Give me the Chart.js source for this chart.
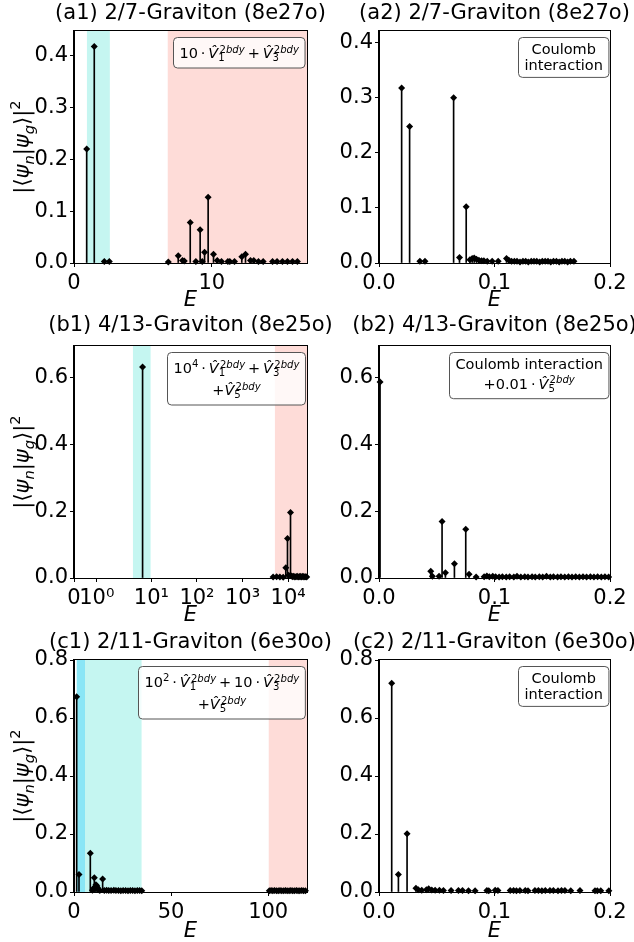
<!DOCTYPE html>
<html>
<head>
<meta charset="utf-8">
<script src="https://cdn.jsdelivr.net/npm/chart.js@4.4.1/dist/chart.umd.min.js"></script>
<style>
  html, body { margin: 0; padding: 0; background: #fff; }
  #wrap { position: relative; width: 634px; height: 942px; overflow: hidden; }
  #wrap canvas { position: absolute; left: 0; top: 0; }
</style>
</head>
<body>
<div id="wrap">
  <canvas id="a1" width="634" height="942"></canvas>
  <canvas id="a2" width="634" height="942"></canvas>
  <canvas id="b1" width="634" height="942"></canvas>
  <canvas id="b2" width="634" height="942"></canvas>
  <canvas id="c1" width="634" height="942"></canvas>
  <canvas id="c2" width="634" height="942"></canvas>
</div>
<script>
// ---- data: [E, |<psi_n|psi_g>|^2] ----
const a1Stems = [
  [0.92, 0.220], [1.47, 0.418], [2.20, 0.003], [2.56, 0.003], [6.84, 0.002], [7.56, 0.014],
  [7.87, 0.005], [8.00, 0.004], [8.43, 0.078], [8.84, 0.003], [9.15, 0.064], [9.30, 0.003],
  [9.47, 0.021], [9.73, 0.127], [10.12, 0.017], [10.39, 0.005], [10.70, 0.003], [11.16, 0.003],
  [11.30, 0.003], [11.64, 0.003], [12.17, 0.012], [12.44, 0.017], [12.80, 0.005], [13.04, 0.005],
  [13.38, 0.003], [13.72, 0.003], [14.40, 0.003], [14.73, 0.003], [15.12, 0.003], [15.48, 0.003],
  [15.85, 0.003], [16.20, 0.003]
];
const a2Stems = [
  [0.0196, 0.317], [0.0265, 0.247], [0.0354, 0.003], [0.0398, 0.003], [0.0646, 0.299], [0.0697, 0.010],
  [0.0755, 0.102], [0.0787, 0.006], [0.0807, 0.008], [0.0824, 0.009], [0.0844, 0.007], [0.0865, 0.005],
  [0.0888, 0.004], [0.0908, 0.004], [0.0937, 0.003], [0.0980, 0.003], [0.1032, 0.003], [0.1104, 0.008],
  [0.1124, 0.005], [0.1148, 0.003], [0.1172, 0.003], [0.1195, 0.003], [0.1221, 0.002], [0.1246, 0.003],
  [0.1270, 0.003], [0.1293, 0.002], [0.1318, 0.003], [0.1342, 0.003], [0.1366, 0.003], [0.1391, 0.002],
  [0.1414, 0.003], [0.1439, 0.003], [0.1463, 0.003], [0.1487, 0.002], [0.1511, 0.003], [0.1536, 0.003],
  [0.1560, 0.002], [0.1584, 0.003], [0.1608, 0.003], [0.1633, 0.002], [0.1657, 0.003], [0.1688, 0.003]
];
const b1Stems = [
  [6.4, 0.632], [4700, 0.003], [5600, 0.004], [6600, 0.003], [7800, 0.002], [8900, 0.031],
  [9700, 0.118], [10300, 0.008], [11300, 0.196], [11900, 0.006], [12600, 0.004], [13300, 0.005],
  [14100, 0.003], [14900, 0.004], [15800, 0.005], [16600, 0.003], [17500, 0.004], [18400, 0.005],
  [19300, 0.003], [20200, 0.004], [21200, 0.005], [22300, 0.003], [23400, 0.004], [24500, 0.004],
  [25600, 0.003]
];
const b2Stems = [
  [0.0009, 0.587], [0.0448, 0.020], [0.0462, 0.005], [0.0520, 0.005], [0.0546, 0.169], [0.0575, 0.016],
  [0.0653, 0.043], [0.0751, 0.146], [0.0780, 0.011], [0.0841, 0.003], [0.0910, 0.004], [0.0934, 0.006],
  [0.0955, 0.004], [0.0985, 0.005], [0.1010, 0.004], [0.1040, 0.003], [0.1068, 0.004], [0.1102, 0.003],
  [0.1131, 0.004], [0.1167, 0.003], [0.1195, 0.005], [0.1228, 0.003], [0.1262, 0.004], [0.1290, 0.003],
  [0.1325, 0.004], [0.1353, 0.003], [0.1388, 0.004], [0.1417, 0.003], [0.1450, 0.005], [0.1483, 0.003],
  [0.1511, 0.004], [0.1546, 0.003], [0.1575, 0.004], [0.1608, 0.003], [0.1640, 0.004], [0.1671, 0.003],
  [0.1703, 0.004], [0.1735, 0.003], [0.1766, 0.004], [0.1797, 0.003], [0.1830, 0.004], [0.1861, 0.003],
  [0.1893, 0.004], [0.1925, 0.003], [0.1956, 0.004], [0.1988, 0.003]
];
const c1Stems = [
  [1.37, 0.673], [2.57, 0.060], [8.4, 0.134], [9.5, 0.006], [10.0, 0.012], [10.46, 0.049],
  [10.9, 0.018], [11.3, 0.025], [11.8, 0.021], [12.3, 0.013], [12.8, 0.008], [13.3, 0.005],
  [14.75, 0.045], [15.6, 0.005], [16.8, 0.006], [17.9, 0.005], [19.1, 0.005], [20.5, 0.006],
  [21.6, 0.005], [22.9, 0.005], [24.1, 0.004], [25.3, 0.005], [26.6, 0.005], [27.8, 0.004],
  [29.0, 0.005], [30.2, 0.005], [31.4, 0.004], [32.6, 0.005], [33.8, 0.005], [34.9, 0.004],
  [100.6, 0.004], [101.5, 0.005], [102.4, 0.004], [103.3, 0.005], [104.3, 0.004], [105.2, 0.004],
  [106.1, 0.005], [107.0, 0.004], [108.0, 0.004], [108.9, 0.005], [109.8, 0.004], [110.8, 0.004],
  [111.7, 0.005], [112.6, 0.004], [113.5, 0.004], [114.5, 0.005], [115.4, 0.004], [116.3, 0.004],
  [117.3, 0.005], [118.2, 0.004], [119.2, 0.004]
];
const c2Stems = [
  [0.0110, 0.720], [0.0168, 0.060], [0.0243, 0.201], [0.0320, 0.013], [0.0340, 0.008], [0.0370, 0.006],
  [0.0410, 0.008], [0.0430, 0.011], [0.0457, 0.007], [0.0486, 0.006], [0.0523, 0.006], [0.0558, 0.005],
  [0.0624, 0.005], [0.0688, 0.005], [0.0723, 0.005], [0.0775, 0.004], [0.0832, 0.004], [0.0934, 0.005],
  [0.0950, 0.004], [0.1006, 0.006], [0.1030, 0.005], [0.1136, 0.005], [0.1165, 0.005], [0.1190, 0.004],
  [0.1220, 0.005], [0.1266, 0.005], [0.1290, 0.004], [0.1350, 0.005], [0.1380, 0.005], [0.1410, 0.004],
  [0.1440, 0.005], [0.1480, 0.005], [0.1510, 0.005], [0.1550, 0.004], [0.1580, 0.005], [0.1610, 0.005],
  [0.1660, 0.004], [0.1740, 0.005], [0.1870, 0.004], [0.1890, 0.004], [0.1920, 0.004], [0.1990, 0.004]
];

// shaded energy windows [from, to, kind]
const a1Bands = [[0.94, 2.6, 'turq'], [6.8, 16.9, 'salmon']];
const b1Bands = [[3.94, 9.6, 'turq'], [5140, 26000, 'salmon']];
const c1Bands = [[1.4, 34.8, 'turq'], [1.4, 5.66, 'sky'], [100.3, 120, 'salmon']];

// ticks
const yTicksA = [0, 0.1, 0.2, 0.3, 0.4];
const yTicksB = [0, 0.2, 0.4, 0.6];
const yTicksC = [0, 0.2, 0.4, 0.6, 0.8];
const xTicksA1 = [0, 10];
const xTicksB1 = [0, 1, 10, 100, 1000, 10000];
const xLabelsB1 = ['0', '10\u2070', '10\u00b9', '10\u00b2', '10\u00b3', '10\u2074'];
const xTicksC1 = [0, 50, 100];
const xTicksSmall = [0, 0.1, 0.2];

// annotation texts (strings upright, objects = math pieces)
const vhat = n => ({ b: 'V', hat: true, sub: n, sup: '2bdy' });
const op = s => [{ sp: 0.2 }, s, { sp: 0.2 }];
const a1Box = [['10', ...op('\u00b7'), vhat('1'), ...op('+'), vhat('3')]];
const b1Box = [['10', { sup: '4' }, ...op('\u00b7'), vhat('1'), ...op('+'), vhat('3')], ['+', vhat('5')]];
const c1Box = [['10', { sup: '2' }, ...op('\u00b7'), vhat('1'), ...op('+'), '10', ...op('\u00b7'), vhat('3')], ['+', vhat('5')]];
const coulombBox = [['Coulomb'], ['interaction']];
const b2Box = [['Coulomb interaction'], ['+0.01', ...op('\u00b7'), vhat('5')]];
const yLabelTokens = ['|\u27e8', { b: '\u03c8', sub: 'n' }, '|', { b: '\u03c8', sub: 'g' }, '\u27e9|', { sup: '2' }];

const FONT = '"DejaVu Sans", sans-serif';
const BAND_COLORS = {
  turq: 'rgba(64,224,208,0.3)',
  sky: 'rgba(0,191,255,0.3)',
  salmon: 'rgba(250,128,114,0.28)'
};

// symmetric log scale (linear below linthresh, log10 above)
class SymlogScale extends Chart.Scale {
  static id = 'symlog';
  static defaults = { linthresh: 2, linscale: 1 };
  determineDataLimits() {
    const { min, max } = this.getMinMax(true);
    this.min = Number.isFinite(this.options.min) ? this.options.min : min;
    this.max = Number.isFinite(this.options.max) ? this.options.max : max;
  }
  buildTicks() { return []; }
  tf(v) {
    const c = this.options.linthresh, ls = this.options.linscale, a = Math.abs(v);
    return Math.sign(v) * (a <= c ? a / c * ls : ls + Math.log10(a / c));
  }
  configure() {
    super.configure();
    this._t0 = this.tf(this.min);
    this._t1 = this.tf(this.max);
  }
  getLabelForValue(v) { return String(v); }
  getPixelForValue(v) {
    return this.getPixelForDecimal((this.tf(v) - this._t0) / (this._t1 - this._t0));
  }
  getValueForPixel(p) {
    const t = this._t0 + this.getDecimalForPixel(p) * (this._t1 - this._t0);
    const c = this.options.linthresh, ls = this.options.linscale, a = Math.abs(t);
    return Math.sign(t) * (a <= ls ? a / ls * c : c * Math.pow(10, a - ls));
  }
}
Chart.register(SymlogScale);

// ---- small math text renderer ----
function setFont(ctx, size, italic) {
  ctx.font = (italic ? 'italic ' : '') + size + 'px ' + FONT;
}
function drawRun(ctx, s, x, y, size, math, draw) {
  if (!math) {
    setFont(ctx, size, false);
    if (draw) ctx.fillText(s, x, y);
    return ctx.measureText(s).width;
  }
  let w = 0;
  for (const ch of s) {
    setFont(ctx, size, /\p{L}/u.test(ch));
    if (draw) ctx.fillText(ch, x + w, y);
    w += ctx.measureText(ch).width;
  }
  return w;
}
function drawTok(ctx, tk, x, y, size, draw) {
  if (typeof tk === 'string') return drawRun(ctx, tk, x, y, size, false, draw);
  if (tk.sp) return tk.sp * size;
  let w = 0;
  if (tk.b) {
    setFont(ctx, size, true);
    if (draw) ctx.fillText(tk.hat ? tk.b + '\u0302' : tk.b, x, y);
    w = ctx.measureText(tk.b).width;
  }
  const ss = size * 0.7;
  const ic = tk.b ? size * 0.08 : 0;
  const wSup = tk.sup ? ic + drawRun(ctx, tk.sup, x + w + ic, y - size * (tk.b ? 0.36 : 0.42), ss, true, draw) : 0;
  const wSub = tk.sub ? drawRun(ctx, tk.sub, x + w, y + size * 0.22, ss, true, draw) : 0;
  return w + Math.max(wSup, wSub);
}
function drawLine(ctx, line, x, y, size, draw) {
  let w = 0;
  for (const tk of line) w += drawTok(ctx, tk, x + w, y, size, draw);
  return w;
}
function drawBox(ctx, a, lines) {
  const fs = 14.5, padX = 6, padT = 5, padB = 3.5, r = 4;
  const widths = lines.map(l => drawLine(ctx, l, 0, 0, fs, false));
  const ms = lines.map(l => l.some(t => typeof t !== 'string') ? { asc: 15.5, desc: 6.5 } : { asc: 11.5, desc: 4.2 });
  const w = Math.max(...widths) + 2 * padX;
  const h = padT + padB + ms.reduce((s, m) => s + m.asc + m.desc, 0);
  const x0 = Math.round(a.right - 2 - w) + 0.5, y0 = Math.round(a.top + 6) + 0.5;
  ctx.beginPath();
  ctx.moveTo(x0 + r, y0);
  ctx.arcTo(x0 + w, y0, x0 + w, y0 + h, r);
  ctx.arcTo(x0 + w, y0 + h, x0, y0 + h, r);
  ctx.arcTo(x0, y0 + h, x0, y0, r);
  ctx.arcTo(x0, y0, x0 + w, y0, r);
  ctx.closePath();
  ctx.fillStyle = 'rgba(255,255,255,0.8)';
  ctx.fill();
  ctx.strokeStyle = '#555';
  ctx.lineWidth = 1;
  ctx.stroke();
  ctx.fillStyle = '#000';
  let y = y0 + padT;
  lines.forEach((l, i) => {
    y += ms[i].asc;
    drawLine(ctx, l, x0 + (w - widths[i]) / 2, y, fs, true);
    y += ms[i].desc;
  });
}
function drawYLabel(ctx, a) {
  const fs = 21;
  const w = drawLine(ctx, yLabelTokens, 0, 0, fs, false);
  ctx.translate(29, (a.top + a.bottom) / 2);
  ctx.rotate(-Math.PI / 2);
  ctx.fillStyle = '#000';
  drawLine(ctx, yLabelTokens, -w / 2, 0, fs, true);
}

function makeDeco(p) {
  return {
    id: 'deco',
    beforeDatasetsDraw(chart) {
      const { ctx, chartArea: a, scales: { x } } = chart;
      ctx.save();
      ctx.beginPath();
      ctx.rect(a.left, a.top, a.right - a.left, a.bottom - a.top);
      ctx.clip();
      for (const [from, to, kind] of p.bands) {
        const x0 = x.getPixelForValue(from), x1 = x.getPixelForValue(to);
        ctx.fillStyle = BAND_COLORS[kind];
        ctx.fillRect(x0, a.top, x1 - x0, a.bottom - a.top);
      }
      ctx.restore();
    },
    afterDraw(chart) {
      const { ctx, chartArea: a } = chart;
      ctx.save();
      ctx.strokeStyle = '#000';
      ctx.lineWidth = 1;
      ctx.strokeRect(a.left - 0.5, a.top - 0.5, a.right - a.left + 1, a.bottom - a.top + 1);
      // panel title, centred over the plot area
      ctx.fillStyle = '#000';
      ctx.font = '21px ' + FONT;
      ctx.textAlign = 'center';
      ctx.textBaseline = 'middle';
      ctx.fillText(p.title, (a.left + a.right) / 2, p.titleY);
      ctx.textAlign = 'left';
      ctx.textBaseline = 'alphabetic';
      if (p.box) drawBox(ctx, a, p.box);
      ctx.restore();
      if (p.ylabel) {
        ctx.save();
        ctx.textAlign = 'left';
        ctx.textBaseline = 'alphabetic';
        drawYLabel(ctx, a);
        ctx.restore();
      }
    }
  };
}

const fmt1 = v => v.toFixed(1);
const panels = [
  { id: 'a1', title: '(a1) 2/7-Graviton (8e27o)', area: [74, 31, 307, 263], titleY: 13.5, eOff: 38,
    xType: 'linear', xMax: 16.9, xTicks: xTicksA1, xFmt: v => String(v),
    yMax: 0.448, yTicks: yTicksA, stems: a1Stems, bands: a1Bands, box: a1Box, ylabel: true },
  { id: 'a2', title: '(a2) 2/7-Graviton (8e27o)', area: [379, 31, 610, 263], titleY: 13.5, eOff: 38,
    xType: 'linear', xMax: 0.2, xTicks: xTicksSmall, xFmt: fmt1,
    yMax: 0.42, yTicks: yTicksA, stems: a2Stems, bands: [], box: coulombBox, ylabel: false },
  { id: 'b1', title: '(b1) 4/13-Graviton (8e25o)', area: [74, 346, 307, 578], titleY: 325.5, eOff: 38,
    xType: 'symlog', xMax: 26000, xTicks: xTicksB1, xFmt: (v, i) => xLabelsB1[i],
    yMax: 0.695, yTicks: yTicksB, stems: b1Stems, bands: b1Bands, box: b1Box, ylabel: true },
  { id: 'b2', title: '(b2) 4/13-Graviton (8e25o)', area: [379, 346, 610, 578], titleY: 325.5, eOff: 38,
    xType: 'linear', xMax: 0.2, xTicks: xTicksSmall, xFmt: fmt1,
    yMax: 0.695, yTicks: yTicksB, stems: b2Stems, bands: [], box: b2Box, ylabel: false },
  { id: 'c1', title: '(c1) 2/11-Graviton (6e30o)', area: [74, 660, 307, 892], titleY: 642.5, eOff: 39.5,
    xType: 'linear', xMax: 120, xTicks: xTicksC1, xFmt: v => String(v),
    yMax: 0.8, yTicks: yTicksC, stems: c1Stems, bands: c1Bands, box: c1Box, ylabel: true },
  { id: 'c2', title: '(c2) 2/11-Graviton (6e30o)', area: [379, 660, 610, 892], titleY: 642.5, eOff: 39.5,
    xType: 'linear', xMax: 0.2, xTicks: xTicksSmall, xFmt: fmt1,
    yMax: 0.8, yTicks: yTicksC, stems: c2Stems, bands: [], box: coulombBox, ylabel: false }
];

const W = 634, H = 942, Y_AXIS_W = 60, X_AXIS_H = 50, TITLE_LH = 25.2;

panels.forEach(p => {
  const [l, t, r, b] = p.area;
  const pts = p.stems.map(([e, w]) => ({ x: e, y: w }));
  const grid = { display: true, drawOnChartArea: false, drawTicks: true, tickLength: 4, color: '#000', lineWidth: 1 };
  new Chart(document.getElementById(p.id), {
    type: 'bar',
    data: {
      datasets: [
        { type: 'bar', data: pts, backgroundColor: '#000', barThickness: 1, borderWidth: 0, order: 2, clip: false },
        { type: 'scatter', data: pts, pointStyle: 'rectRot', pointRadius: 3.5, backgroundColor: '#000',
          borderWidth: 0, order: 1, clip: false }
      ]
    },
    options: {
      responsive: false,
      animation: false,
      events: [],
      layout: { padding: { left: l - Y_AXIS_W, top: t, right: W - r, bottom: H - b - X_AXIS_H } },
      plugins: {
        legend: { display: false },
        tooltip: { enabled: false },
        title: { display: false }
      },
      scales: {
        x: {
          type: p.xType, min: 0, max: p.xMax, offset: false,
          grid: { ...grid, offset: false },
          border: { display: true, color: '#000', width: 1 },
          ticks: {
            color: '#000', font: { family: FONT, size: 21, lineHeight: 1 }, padding: 6,
            autoSkip: false, maxRotation: 0, callback: (v, i) => p.xFmt(v, i)
          },
          title: {
            display: true, text: 'E', color: '#000',
            font: { family: FONT, size: 21, style: 'italic', lineHeight: 1.2 },
            padding: { top: 0, bottom: X_AXIS_H - TITLE_LH / 2 - p.eOff }
          },
          afterBuildTicks: s => { s.ticks = p.xTicks.map(v => ({ value: v })); },
          afterFit: s => { s.height = X_AXIS_H; }
        },
        y: {
          type: 'linear', min: 0, max: p.yMax,
          grid: grid,
          border: { display: true, color: '#000', width: 1 },
          ticks: {
            color: '#000', font: { family: FONT, size: 21 }, padding: 2,
            autoSkip: false, callback: v => fmt1(v)
          },
          afterBuildTicks: s => { s.ticks = p.yTicks.map(v => ({ value: v })); },
          afterFit: s => { s.width = Y_AXIS_W; }
        }
      }
    },
    plugins: [makeDeco(p)]
  });
});
</script>
</body>
</html>
